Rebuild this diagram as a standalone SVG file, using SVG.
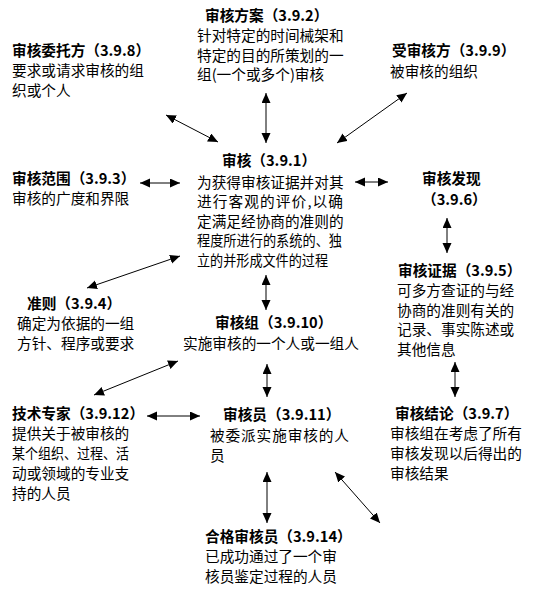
<svg xmlns="http://www.w3.org/2000/svg" width="533" height="596" viewBox="0 0 533 596">
<style>
text { font-family: "Noto Sans CJK SC", "Noto Sans", sans-serif; font-size: 14.67px; fill: #000; }
.b { font-weight: bold; }
.c line { stroke: #000; stroke-width: 1; marker-start: url(#ah); marker-end: url(#ah); }
</style>
<defs>
<marker id="ah" markerUnits="userSpaceOnUse" markerWidth="10" markerHeight="10" refX="10" refY="4.5" orient="auto-start-reverse">
<path d="M0,0 L10,4.5 L0,9 z" fill="#000"/>
</marker>
</defs>
<rect width="533" height="596" fill="#fff"/>
<g id="n392">
<text class="b" x="205" y="21">审核方案（3.9.2）</text>
<text x="197" y="41">针对特定的时间械架和</text>
<text x="197" y="60.5">特定的目的所策划的一</text>
<text x="197" y="80">组(一个或多个)审核</text>
</g>
<g id="n398">
<text class="b" x="12" y="56">审核委托方（3.9.8）</text>
<text x="12" y="76">要求或请求审核的组</text>
<text x="12" y="95.5">织或个人</text>
</g>
<g id="n399">
<text class="b" x="392" y="56">受审核方（3.9.9）</text>
<text x="390" y="77">被审核的组织</text>
</g>
<g id="n391">
<text class="b" x="222" y="166">审核（3.9.1）</text>
<text x="197" y="187.5">为获得审核证据并对其</text>
<text x="197" y="207" textLength="146" lengthAdjust="spacing">进行客观的评价,以确</text>
<text x="197" y="226.5">定满足经协商的准则的</text>
<text x="197" y="246" textLength="145" lengthAdjust="spacingAndGlyphs">程度所进行的系统的、独</text>
<text x="197" y="265.5" textLength="131" lengthAdjust="spacingAndGlyphs">立的并形成文件的过程</text>
</g>
<g id="n393">
<text class="b" x="12" y="184">审核范围（3.9.3）</text>
<text x="12" y="204">审核的广度和界限</text>
</g>
<g id="n394">
<text class="b" x="27" y="309">准则（3.9.4）</text>
<text x="17" y="329">确定为依据的一组</text>
<text x="17" y="349">方针、程序或要求</text>
</g>
<g id="n396">
<text class="b" x="422" y="184">审核发现</text>
<text class="b" x="422" y="205">（3.9.6）</text>
</g>
<g id="n395">
<text class="b" x="398" y="276">审核证据（3.9.5）</text>
<text x="397" y="296">可多方查证的与经</text>
<text x="397" y="315.5">协商的准则有关的</text>
<text x="397" y="335">记录、事实陈述或</text>
<text x="397" y="354.5">其他信息</text>
</g>
<g id="n3910">
<text class="b" x="215" y="328">审核组（3.9.10）</text>
<text x="183" y="349">实施审核的一个人或一组人</text>
</g>
<g id="n3911">
<text class="b" x="223" y="420">审核员（3.9.11）</text>
<text x="210" y="441" textLength="139" lengthAdjust="spacing">被委派实施审核的人</text>
<text x="210" y="461">员</text>
</g>
<g id="n3912">
<text class="b" x="12" y="419">技术专家（3.9.12）</text>
<text x="12" y="439">提供关于被审核的</text>
<text x="12" y="459" textLength="117" lengthAdjust="spacingAndGlyphs">某个组织、过程、活</text>
<text x="12" y="479">动或领域的专业支</text>
<text x="12" y="499">持的人员</text>
</g>
<g id="n397">
<text class="b" x="395" y="419">审核结论（3.9.7）</text>
<text x="390" y="439">审核组在考虑了所有</text>
<text x="390" y="459">审核发现以后得出的</text>
<text x="390" y="479">审核结果</text>
</g>
<g id="n3914">
<text class="b" x="205" y="542">合格审核员（3.9.14）</text>
<text x="205" y="562">已成功通过了一个审</text>
<text x="205" y="581.5">核员鉴定过程的人员</text>
</g>
<g id="connectors" class="c">
<line x1="266" y1="93" x2="266" y2="143"/>
<line x1="166" y1="115" x2="218" y2="142"/>
<line x1="407" y1="93" x2="337" y2="143"/>
<line x1="140" y1="183" x2="180" y2="183"/>
<line x1="355" y1="182" x2="388" y2="182"/>
<line x1="180" y1="256" x2="87" y2="288"/>
<line x1="266" y1="275" x2="266" y2="310"/>
<line x1="447" y1="218" x2="447" y2="253"/>
<line x1="455" y1="362" x2="455" y2="397"/>
<line x1="267" y1="364" x2="267" y2="397"/>
<line x1="147" y1="416" x2="200" y2="416"/>
<line x1="178" y1="361" x2="94" y2="395"/>
<line x1="267" y1="472" x2="267" y2="523"/>
<line x1="335" y1="472" x2="380" y2="523"/>
</g>
</svg>
